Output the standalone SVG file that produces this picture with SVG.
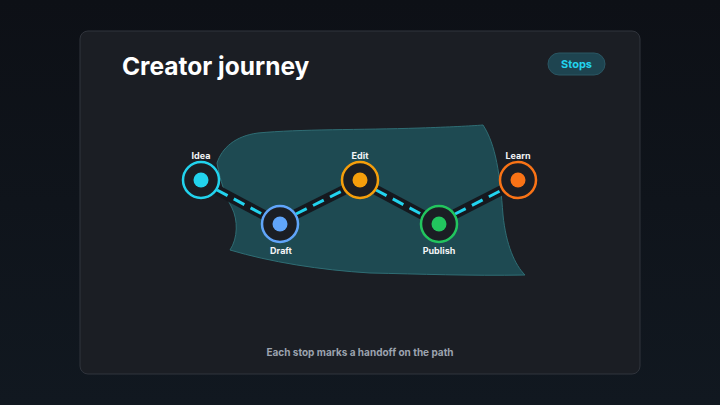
<svg xmlns="http://www.w3.org/2000/svg" width="720" height="405" viewBox="0 0 720 405">
<defs>
<linearGradient id="bg" x1="0" y1="0" x2="0" y2="1">
<stop offset="0" stop-color="#0d1016"/>
<stop offset="1" stop-color="#111820"/>
</linearGradient>
<style>
.lbl{font-family:Inter,"Liberation Sans",sans-serif;font-weight:700;font-size:9px;fill:#f3f4f6;text-anchor:middle}
.ring{fill:#1b1e24;stroke-width:2.5}
.under{stroke:#15181e;stroke-width:10;stroke-linecap:butt;fill:none}
.dash{stroke:#22d3ee;stroke-width:3;stroke-dasharray:12 7;fill:none}
</style>
</defs>
<rect width="720" height="405" fill="url(#bg)"/>
<rect x="80" y="31" width="560" height="343" rx="8" fill="#1b1e24" stroke="#30343c" stroke-width="1"/>
<text x="122" y="75" font-family="Inter,'Liberation Sans',sans-serif" font-weight="700" font-size="24.5" fill="#ffffff">Creator journey</text>
<g id="badge">
<rect x="548" y="53" width="57" height="22" rx="11" fill="#1e4450" stroke="#2a5663" stroke-width="1"/>
<text x="576.5" y="68" font-family="Inter,'Liberation Sans',sans-serif" font-weight="700" font-size="11" fill="#22d3ee" text-anchor="middle">Stops</text>
</g>
<path id="region" d="M217,163 C222,148 235,136 258,133 C300,129 360,130 420,128 C450,127 470,126 483,125 C496,145 500,175 503,215 C506,245 515,265 525,275 C470,276 420,274 370,273 C320,270 270,262 230,250 C238,238 238,220 232,208 C225,195 220,180 217,163 Z" fill="#1e4a52" stroke="#2f6d74" stroke-width="1"/>
<g id="connectors">
<line class="under" x1="217" y1="190" x2="264" y2="215"/>
<line class="dash" x1="217" y1="190" x2="264" y2="215"/>
<line class="under" x1="296" y1="214" x2="344" y2="190"/>
<line class="dash" x1="296" y1="214" x2="344" y2="190"/>
<line class="under" x1="376" y1="190" x2="423" y2="215"/>
<line class="dash" x1="376" y1="190" x2="423" y2="215"/>
<line class="under" x1="455" y1="214" x2="502" y2="190"/>
<line class="dash" x1="455" y1="214" x2="502" y2="190"/>
</g>
<g id="idea">
<circle class="ring" cx="201" cy="180" r="18" stroke="#22d3ee"/>
<circle cx="201" cy="180" r="7.5" fill="#22d3ee"/>
<text class="lbl" x="201" y="159">Idea</text>
</g>
<g id="draft">
<circle class="ring" cx="280" cy="224" r="18" stroke="#60a5fa"/>
<circle cx="280" cy="224" r="7.5" fill="#60a5fa"/>
<text class="lbl" x="281" y="254">Draft</text>
</g>
<g id="edit">
<circle class="ring" cx="360" cy="180" r="18" stroke="#f59e0b"/>
<circle cx="360" cy="180" r="7.5" fill="#f59e0b"/>
<text class="lbl" x="360" y="159">Edit</text>
</g>
<g id="publish">
<circle class="ring" cx="439" cy="224" r="18" stroke="#22c55e"/>
<circle cx="439" cy="224" r="7.5" fill="#22c55e"/>
<text class="lbl" x="439" y="254">Publish</text>
</g>
<g id="learn">
<circle class="ring" cx="518" cy="180" r="18" stroke="#f97316"/>
<circle cx="518" cy="180" r="7.5" fill="#f97316"/>
<text class="lbl" x="518" y="159">Learn</text>
</g>
<text x="360" y="356" font-family="Inter,'Liberation Sans',sans-serif" font-weight="700" font-size="10" fill="#9ca3af" text-anchor="middle">Each stop marks a handoff on the path</text>
</svg>
